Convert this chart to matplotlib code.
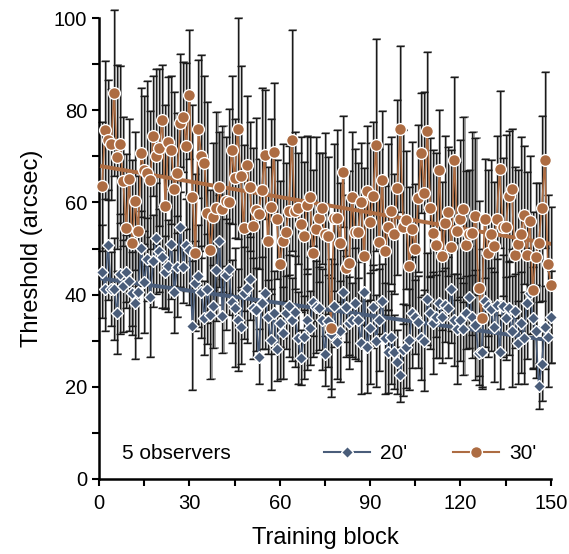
import numpy as np
import matplotlib
matplotlib.use('Agg')
from matplotlib import pyplot as plt
from matplotlib.ticker import MultipleLocator

plt.rcParams['font.family'] = ['Liberation Sans', 'DejaVu Sans']

# threshold per training block, 30' condition (brown circles)
thr_30 = [63.5, 75.7, 73.5, 72.6, 83.7, 69.9, 72.6, 64.6, 54.4, 65.0,
          51.2, 60.3, 53.8, 70.8, 67.0, 66.3, 64.9, 74.5, 70.0, 71.9,
          77.9, 59.2, 73.2, 71.4, 62.9, 66.3, 77.2, 78.5, 72.2, 83.4,
          61.1, 49.1, 76.0, 70.0, 68.5, 57.8, 49.7, 56.9, 58.7, 63.3,
          58.6, 60.3, 60.2, 71.4, 65.2, 76.0, 65.7, 54.4, 68.1, 63.4,
          54.9, 58.4, 57.5, 62.8, 70.3, 51.6, 59.1, 70.9, 56.3, 46.6,
          51.6, 53.6, 58.2, 73.5, 58.2, 58.7, 55.3, 52.7, 59.4, 61.2,
          49.0, 54.2, 56.7, 58.7, 53.1, 52.8, 32.7, 56.7, 56.7, 51.3,
          66.7, 45.7, 46.8, 61.2, 53.6, 53.6, 60.0, 48.4, 62.5, 55.8,
          61.4, 72.5, 51.5, 64.9, 49.5, 54.6, 58.2, 53.1, 63.2, 75.9,
          54.7, 56.2, 46.3, 54.2, 50.0, 60.9, 70.7, 62.0, 75.6, 58.9,
          53.3, 50.8, 67.0, 48.4, 55.5, 58.0, 50.4, 69.2, 53.8, 56.5,
          58.5, 50.8, 53.1, 53.3, 57.0, 41.4, 35.0, 56.5, 49.1, 53.1,
          50.5, 56.5, 67.2, 54.6, 54.6, 61.4, 62.9, 48.6, 51.0, 53.1,
          57.3, 48.6, 56.0, 41.0, 48.2, 51.3, 58.7, 69.2, 46.6, 42.1]

err_30 = [14, 15, 13, 12, 18, 20, 17, 14, 16, 13,
          18, 15, 12, 14, 16, 20, 15, 13, 19, 17,
          12, 22, 14, 16, 21, 13, 15, 12, 18, 14,
          20, 17, 15, 22, 19, 24, 13, 16, 21, 12,
          18, 14, 20, 16, 13, 24, 24, 18, 15, 14,
          17, 20, 12, 22, 14, 16, 19, 15, 13, 18,
          21, 15, 14, 24, 17, 12, 19, 16, 15, 13,
          18, 20, 14, 12, 22, 17, 15, 16, 19, 13,
          12, 16, 20, 14, 18, 15, 13, 19, 14, 17,
          16, 23, 20, 15, 14, 18, 16, 13, 19, 18,
          21, 15, 17, 19, 14, 16, 13, 22, 17, 15,
          18, 20, 13, 16, 19, 14, 21, 18, 15, 17,
          20, 16, 14, 22, 17, 19, 15, 13, 18, 16,
          14, 18, 17, 15, 20, 14, 13, 19, 16, 21,
          15, 18, 14, 17, 16, 13, 20, 19, 15, 17]

# threshold per training block, 20' condition (blue diamonds)
thr_20 = [45.0, 41.2, 50.8, 41.2, 41.2, 36.1, 44.4, 41.9, 45.0, 43.0,
          40.3, 38.1, 40.5, 50.2, 42.7, 47.7, 39.5, 47.3, 52.2, 49.5,
          48.2, 44.8, 46.2, 51.0, 40.6, 46.1, 54.7, 46.1, 50.8, 49.7,
          33.2, 42.6, 44.0, 40.5, 34.9, 41.2, 35.6, 37.5, 45.3, 51.7,
          35.4, 44.3, 45.6, 38.5, 37.2, 34.5, 32.9, 40.4, 41.4, 43.4,
          37.0, 36.7, 26.5, 38.1, 40.3, 35.2, 30.2, 36.1, 28.3, 33.8,
          31.6, 36.1, 37.5, 34.5, 36.3, 30.5, 26.3, 30.7, 34.6, 32.7,
          38.5, 37.4, 37.0, 34.6, 27.1, 34.3, 31.5, 37.6, 29.8, 32.0,
          40.6, 37.4, 33.8, 34.5, 38.1, 34.5, 29.4, 40.5, 28.6, 32.7,
          37.4, 30.0, 34.5, 38.7, 30.5, 27.6, 30.7, 27.6, 25.4, 22.6,
          28.0, 28.7, 30.2, 36.1, 35.2, 34.1, 30.5, 30.0, 39.0, 36.1,
          33.8, 35.2, 38.2, 35.2, 37.7, 37.2, 41.2, 34.5, 32.5, 34.5,
          32.5, 36.1, 39.5, 35.2, 33.4, 27.3, 27.6, 38.6, 37.5, 36.8,
          33.0, 37.7, 27.6, 37.5, 34.9, 37.0, 32.0, 36.5, 29.6, 33.9,
          30.5, 38.1, 40.4, 34.9, 32.0, 20.2, 24.9, 32.9, 30.9, 35.1]

err_20 = [10, 9, 12, 8, 11, 9, 13, 10, 8, 11,
          9, 12, 10, 8, 11, 9, 13, 10, 12, 9,
          11, 8, 10, 12, 9, 11, 13, 8, 10, 12,
          14, 9, 11, 10, 8, 12, 14, 9, 11, 10,
          8, 12, 10, 9, 13, 11, 8, 10, 12, 9,
          11, 9, 6, 10, 12, 8, 11, 9, 7, 12,
          10, 8, 11, 9, 12, 10, 6, 9, 11, 8,
          12, 10, 9, 11, 7, 10, 12, 9, 8, 11,
          9, 11, 10, 8, 12, 9, 11, 7, 10, 12,
          9, 10, 11, 8, 12, 9, 10, 8, 7, 6,
          10, 9, 11, 12, 8, 10, 9, 11, 10, 8,
          11, 9, 12, 10, 8, 11, 9, 10, 12, 9,
          10, 8, 11, 9, 12, 7, 8, 10, 11, 9,
          12, 10, 8, 11, 9, 10, 12, 8, 9, 11,
          10, 12, 9, 11, 10, 5, 8, 9, 11, 10]

blocks = np.arange(1, len(thr_30) + 1)

brown = '#ad6c42'
blue = '#4a5d7a'

fig = plt.figure(figsize=(5.69, 5.54), dpi=100)
ax = fig.add_axes([0.174, 0.1354, 0.794, 0.832])

# error bars with a grey "shadow" just to the right
for y, e in [(thr_30, err_30), (thr_20, err_20)]:
    ax.errorbar(blocks + 0.35, y, yerr=e, fmt='none', ecolor='#8a8a8a',
                elinewidth=1.1, capsize=3, capthick=1.1, zorder=1, clip_on=False)
    ax.errorbar(blocks, y, yerr=e, fmt='none', ecolor='#1a1a1a',
                elinewidth=1.0, capsize=3, capthick=1.0, zorder=2, clip_on=False)

# connecting lines
ax.plot(blocks, thr_20, color=blue, lw=1.2, zorder=3)
ax.plot(blocks, thr_30, color=brown, lw=1.2, zorder=3)

# linear trend lines
for y, c in [(thr_30, brown), (thr_20, blue)]:
    k, b = np.polyfit(blocks, y, 1)
    ax.plot(blocks, k * blocks + b, color=c, lw=2.8, zorder=3.5)

ax.plot(blocks, thr_20, ls='none', marker='D', ms=6.5,
        mfc=blue, mec='white', mew=1.0, zorder=4, clip_on=False)
ax.plot(blocks, thr_30, ls='none', marker='o', ms=8.5,
        mfc=brown, mec='white', mew=1.0, zorder=5, clip_on=False)

# legend proxies
h20, = ax.plot([], [], color=blue, lw=1.5, marker='D', ms=6.5,
               mfc=blue, mec='white', mew=1.0, label="20'")
h30, = ax.plot([], [], color=brown, lw=1.5, marker='o', ms=8.5,
               mfc=brown, mec='white', mew=1.0, label="30'")

ax.set_xlim(0, 150)
ax.set_ylim(0, 100)
ax.xaxis.set_major_locator(MultipleLocator(30))
ax.xaxis.set_minor_locator(MultipleLocator(15))
ax.yaxis.set_major_locator(MultipleLocator(20))
ax.yaxis.set_minor_locator(MultipleLocator(10))
ax.tick_params(which='both', direction='out', length=5, width=1.5, labelsize=14.5)
ax.tick_params(axis='x', pad=6)

for s in ['top', 'right']:
    ax.spines[s].set_visible(False)
for s in ['left', 'bottom']:
    ax.spines[s].set_linewidth(1.8)

ax.set_xlabel('Training block', fontsize=17, labelpad=10)
ax.set_ylabel('Threshold (arcsec)', fontsize=17, labelpad=8)

ax.text(0.05, 0.055, '5 observers', transform=ax.transAxes, fontsize=15,
        va='center', ha='left')
ax.legend(handles=[h20, h30], loc='center right', bbox_to_anchor=(1.01, 0.055),
          ncol=2, frameon=False, fontsize=15, handlelength=2.2,
          columnspacing=2.2, handletextpad=0.5)

plt.savefig('out.png', dpi=100)
